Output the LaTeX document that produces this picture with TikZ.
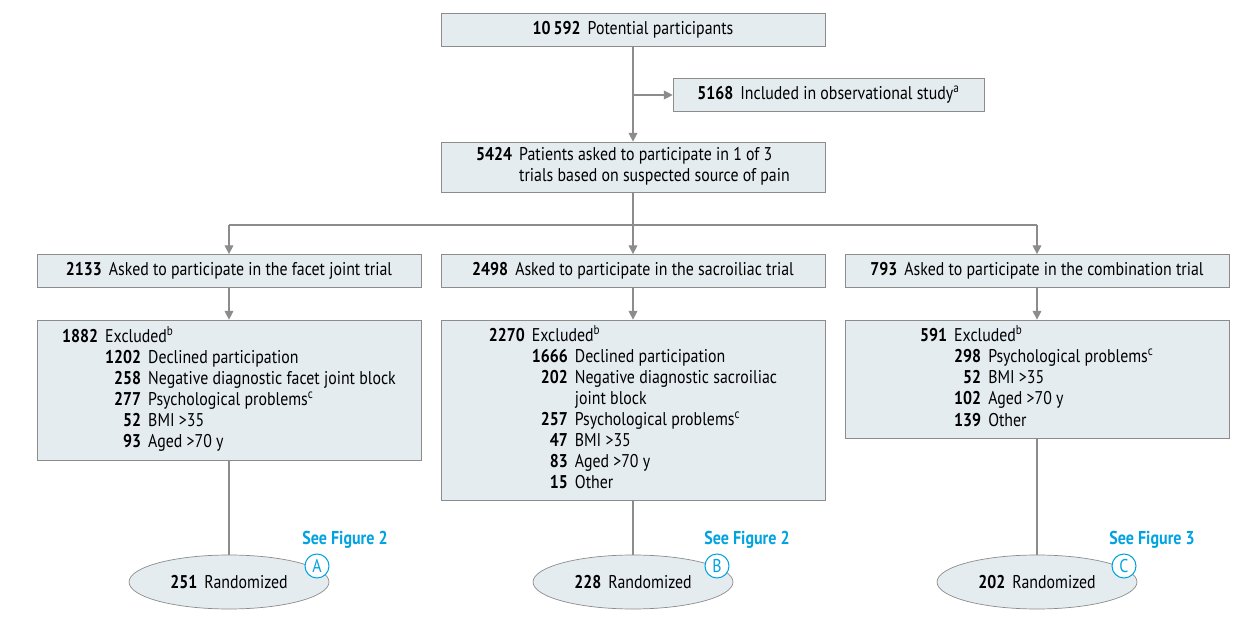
\documentclass[tikz,border=0pt]{standalone}
\usepackage{fontspec}
\setmainfont{PT Sans}[FakeStretch=0.86]
\usetikzlibrary{shapes.geometric,arrows.meta}

\definecolor{boxfill}{HTML}{E4ECF0}
\definecolor{boxline}{HTML}{8C8C8C}
\definecolor{figblue}{HTML}{00A3E0}

\tikzset{
    flowbox/.style={draw=boxline, fill=boxfill, minimum width=7.68cm, minimum height=0.66cm, inner sep=0pt, align=center},
    randbox/.style={ellipse, draw=boxline, fill=boxfill, minimum width=4cm, minimum height=1.08cm, inner sep=0pt},
    flowarrow/.style={draw=boxline, line width=0.6pt, -{Triangle[length=5pt,width=5pt]}},
    flowline/.style={draw=boxline, line width=0.6pt},
    figlink/.style={text=figblue, font=\bfseries\fontsize{10.6}{12}\selectfont},
    letterdot/.style={circle, draw=figblue, line width=0.6pt, fill=white, text=figblue, minimum size=0.48cm, inner sep=0pt, font=\fontsize{10.5}{12}\selectfont}
}

\begin{document}
\begin{tikzpicture}[x=0.02cm, y=-0.02cm, font=\fontsize{10.5}{12}\selectfont]
                \useasboundingbox (0,0) rectangle (1235,628);

                %%top part
                \node[flowbox] (top) at (633, 30)
                    {\textbf{10\,592}\hspace{4pt}Potential participants};
                \node[flowbox, minimum width=6.22cm] (obs) at (828.5, 95)
                    {\textbf{5168}\hspace{4pt}Included in observational study\textsuperscript{a}};
                \node[flowbox, minimum height=1cm] (pain) at (633, 167)
                    {\begin{tabular}{@{}r@{\hspace{4pt}}l@{}}
                        \textbf{5424} & Patients asked to participate in 1 of 3\\
                        & trials based on suspected source of pain
                    \end{tabular}};
                \coordinate (fork) at (633, 225);

                %%trials
                \node[flowbox] (facet) at (229, 271)
                    {\textbf{2133}\hspace{4pt}Asked to participate in the facet joint trial};
                \node[flowbox] (sacro) at (633, 271)
                    {\textbf{2498}\hspace{4pt}Asked to participate in the sacroiliac trial};
                \node[flowbox] (combi) at (1037, 271)
                    {\textbf{793}\hspace{4pt}Asked to participate in the combination trial};

                %%excluded
                \node[flowbox, minimum height=2.8cm] (exfacet) at (229, 390)
                    {\begin{tabular}{@{}r@{\hspace{4pt}}r@{\hspace{4pt}}l@{}}
                        \textbf{1882} & \multicolumn{2}{@{}l@{}}{Excluded\textsuperscript{b}}\\
                        & \textbf{1202} & Declined participation\\
                        & \textbf{258} & Negative diagnostic facet joint block\\
                        & \textbf{277} & Psychological problems\textsuperscript{c}\\
                        & \textbf{52} & BMI >35\\
                        & \textbf{93} & Aged >70 y
                    \end{tabular}};
                \node[flowbox, minimum height=3.6cm] (exsacro) at (633, 410)
                    {\begin{tabular}{@{}r@{\hspace{4pt}}r@{\hspace{4pt}}l@{}}
                        \textbf{2270} & \multicolumn{2}{@{}l@{}}{Excluded\textsuperscript{b}}\\
                        & \textbf{1666} & Declined participation\\
                        & \textbf{202} & Negative diagnostic sacroiliac\\
                        & & joint block\\
                        & \textbf{257} & Psychological problems\textsuperscript{c}\\
                        & \textbf{47} & BMI >35\\
                        & \textbf{83} & Aged >70 y\\
                        & \textbf{15} & Other
                    \end{tabular}};
                \node[flowbox, minimum height=2.36cm] (excombi) at (1037, 379)
                    {\begin{tabular}{@{}r@{\hspace{4pt}}r@{\hspace{4pt}}l@{}}
                        \textbf{591} & \multicolumn{2}{@{}l@{}}{Excluded\textsuperscript{b}}\\
                        & \textbf{298} & Psychological problems\textsuperscript{c}\\
                        & \textbf{52} & BMI >35\\
                        & \textbf{102} & Aged >70 y\\
                        & \textbf{139} & Other
                    \end{tabular}};

                %%randomized
                \node[randbox] (rfacet) at (229, 582) {\textbf{251}\hspace{4pt}Randomized};
                \node[randbox] (rsacro) at (633, 582) {\textbf{228}\hspace{4pt}Randomized};
                \node[randbox] (rcombi) at (1037, 582) {\textbf{202}\hspace{4pt}Randomized};

                %%connectors
                \draw[flowarrow] (top.south) -- (pain.north);
                \draw[flowarrow] (top.south |- obs.west) -- (obs.west);
                \draw[flowline] (pain.south) -- (fork);
                \draw[flowline] (facet.north |- fork) -- (combi.north |- fork);
                \draw[flowarrow] (facet.north |- fork) -- (facet.north);
                \draw[flowarrow] (fork) -- (sacro.north);
                \draw[flowarrow] (combi.north |- fork) -- (combi.north);
                \draw[flowarrow] (facet.south) -- (exfacet.north);
                \draw[flowarrow] (sacro.south) -- (exsacro.north);
                \draw[flowarrow] (combi.south) -- (excombi.north);
                \draw[flowline] (exfacet.south) -- (rfacet.north);
                \draw[flowline] (exsacro.south) -- (rsacro.north);
                \draw[flowline] (excombi.south) -- (rcombi.north);

                %%figure links
                \node[figlink] (seeA) at (345, 540) {See Figure 2};
                \node[letterdot] (dotA) at (317, 566) {A};
                \node[figlink] (seeB) at (747, 540) {See Figure 2};
                \node[letterdot] (dotB) at (717, 566) {B};
                \node[figlink] (seeC) at (1152, 540) {See Figure 3};
                \node[letterdot] (dotC) at (1124, 566) {C};
            \end{tikzpicture}
\end{document}
